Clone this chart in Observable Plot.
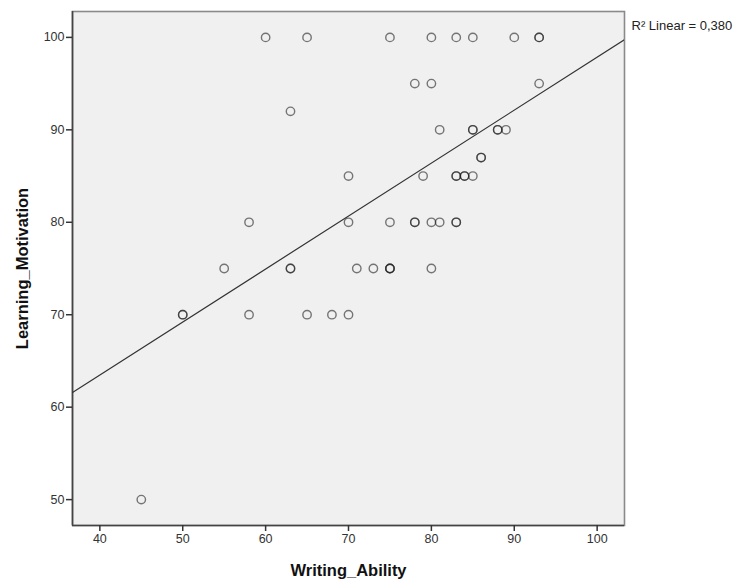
<!DOCTYPE html>
<html>
<head>
<meta charset="utf-8">
<script src="https://cdn.jsdelivr.net/npm/d3@7"></script>
<script src="https://cdn.jsdelivr.net/npm/@observablehq/plot@0.6"></script>
<style>
  html, body { margin: 0; padding: 0; background: #fff; }
</style>
</head>
<body>
<div id="chart"></div>
<script>
// Writing_Ability (x) and Learning_Motivation (y); overlapping points repeated
const writingAbility = [
  60, 65, 75, 80, 83, 85, 90, 93, 93,
  78, 80, 93,
  63,
  81, 85, 85, 88, 88, 89,
  86, 86,
  70, 79, 83, 83, 84, 84, 85,
  58, 70, 75, 78, 78, 80, 81, 83, 83,
  55, 63, 63, 71, 73, 75, 75, 75, 80,
  50, 50, 58, 65, 68, 70,
  45
];
const learningMotivation = [
  100, 100, 100, 100, 100, 100, 100, 100, 100,
  95, 95, 95,
  92,
  90, 90, 90, 90, 90, 90,
  87, 87,
  85, 85, 85, 85, 85, 85, 85,
  80, 80, 80, 80, 80, 80, 80, 80, 80,
  75, 75, 75, 75, 75, 75, 75, 75, 75,
  70, 70, 70, 70, 70, 70,
  50
];
const xTicks = [40, 50, 60, 70, 80, 90, 100];
const yTicks = [50, 60, 70, 80, 90, 100];
const xDomain = [36.7, 103.3];
const yDomain = [47.2, 102.8];
const xTitle = "Writing_Ability";
const yTitle = "Learning_Motivation";
const fitLabel = "R² Linear = 0,380";

const points = writingAbility.map((x, i) => ({x, y: learningMotivation[i]}));

// least-squares fit from the data
const mx = d3.mean(writingAbility), my = d3.mean(learningMotivation);
const sxy = d3.sum(points, d => (d.x - mx) * (d.y - my));
const sxx = d3.sum(points, d => (d.x - mx) ** 2);
const slope = sxy / sxx, intercept = my - slope * mx;
const fitLine = xDomain.map(x => ({x, y: intercept + slope * x}));

const chart = Plot.plot({
  width: 735,
  height: 583,
  marginLeft: 72,
  marginRight: 111,
  marginTop: 11,
  marginBottom: 58,
  style: {fontFamily: "'Liberation Sans', Arial, sans-serif", fontSize: "12.5px", background: "#fff", color: "#333"},
  x: {domain: xDomain},
  y: {domain: yDomain},
  marks: [
    Plot.frame({fill: "#f0f0f0", stroke: "#8a8a8a", strokeWidth: 1.6}),
    Plot.ruleX([xDomain[0]], {stroke: "#444", strokeWidth: 1.6}),
    Plot.ruleY([yDomain[0]], {stroke: "#444", strokeWidth: 1.6}),
    Plot.axisX({ticks: xTicks, tickSize: 6, tickPadding: 3, label: null, stroke: "#333", strokeWidth: 1.5, fill: "#333", fontSize: 12.5}),
    Plot.axisY({ticks: yTicks, tickSize: 6, tickPadding: 2, label: null, stroke: "#333", strokeWidth: 1.5, fill: "#333", fontSize: 12.5}),
    Plot.line(fitLine, {x: "x", y: "y", stroke: "#333", strokeWidth: 1.2, clip: true}),
    Plot.dot(points, {x: "x", y: "y", r: 4.2, stroke: "#222", strokeOpacity: 0.6, strokeWidth: 1.4, fill: "none"}),
    Plot.text([xTitle], {frameAnchor: "bottom", dy: 50, textAnchor: "middle", fontWeight: "bold", fontSize: 16.5, fill: "#111"}),
    Plot.text([yTitle], {frameAnchor: "left", dx: -50, textAnchor: "middle", lineAnchor: "middle", rotate: -90, fontWeight: "bold", fontSize: 16.5, fill: "#111"}),
    Plot.text([fitLabel], {frameAnchor: "top-right", dx: 7, dy: 9, textAnchor: "start", fontSize: 13, fill: "#222"})
  ]
});
document.getElementById("chart").appendChild(chart);
</script>
</body>
</html>
